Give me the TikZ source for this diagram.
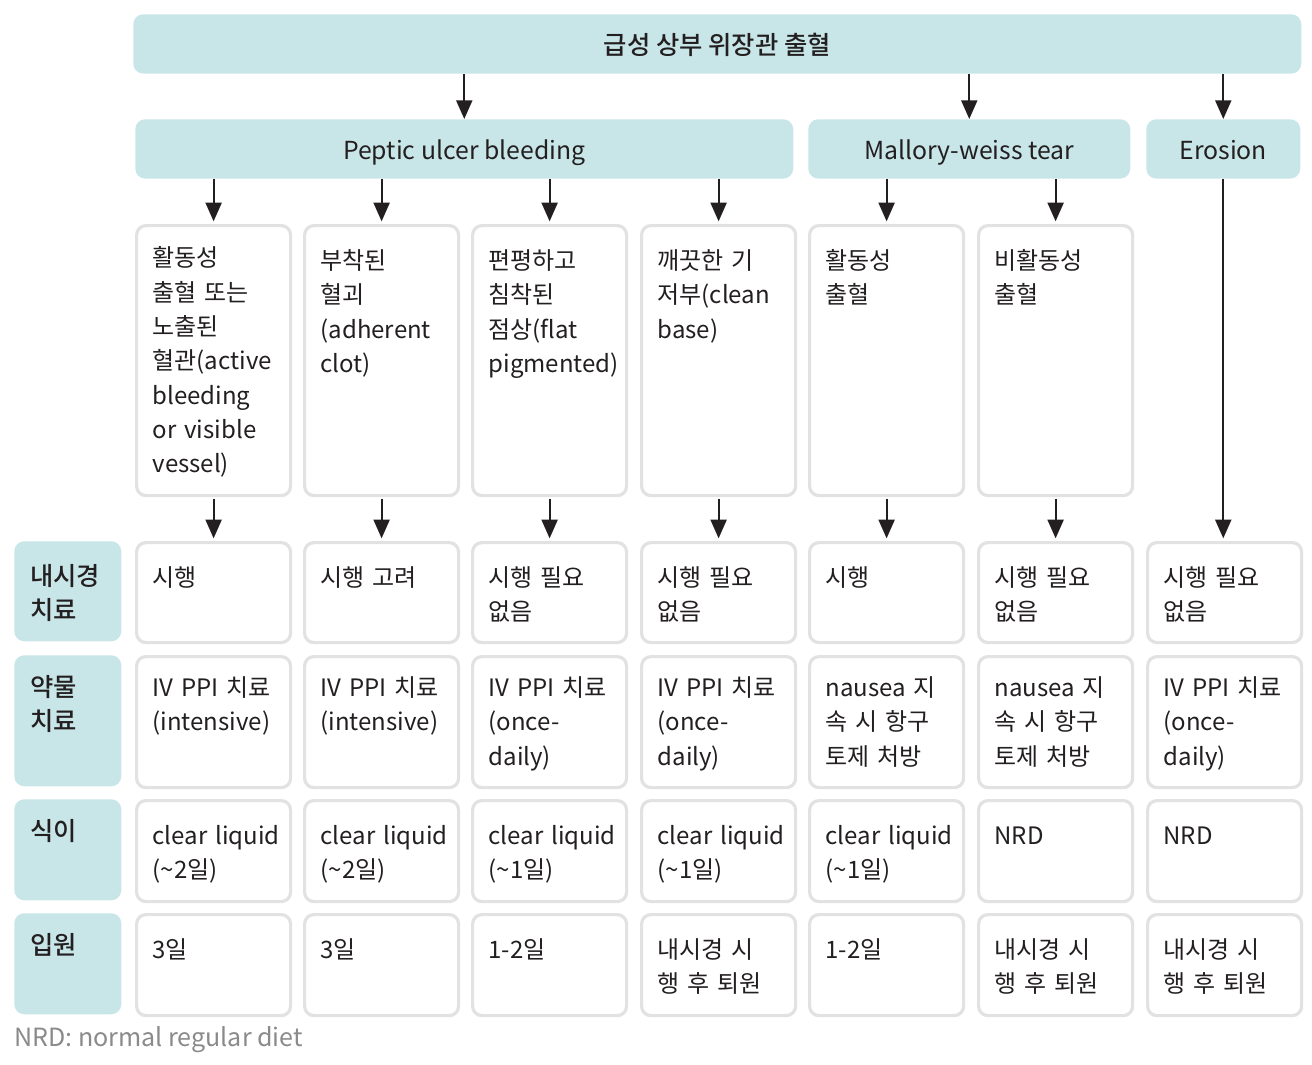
\documentclass[tikz,border=0pt]{standalone}
\usepackage{fontspec}
\setmainfont{Noto Sans CJK KR}[BoldFont={Noto Sans CJK KR Medium}]
\usetikzlibrary{arrows.meta}
\definecolor{headfill}{RGB}{200,230,232}
\definecolor{cellline}{RGB}{226,226,226}
\definecolor{ink}{RGB}{35,31,32}
\definecolor{notegray}{RGB}{138,138,138}
\hyphenpenalty=10000
\begin{document}
\begin{tikzpicture}[x=0.75pt, y=-0.75pt, font=\fontsize{18pt}{25.7pt}\selectfont, text=ink]
\tikzstyle{head} = [rectangle, rounded corners=7.5pt, fill=headfill, anchor=north west, inner sep=0pt, minimum height=44.5pt, text height=17.5pt, text depth=2pt, font=\fontsize{18.6pt}{22pt}\selectfont]
\tikzstyle{cell} = [rectangle, rounded corners=7pt, draw=cellline, line width=2.4pt, fill=white, anchor=north west, inner xsep=12pt, inner ysep=6pt, text width=91.5pt, align=left, text height=27pt]
\tikzstyle{tag} = [rectangle, rounded corners=7.5pt, fill=headfill, anchor=north west, inner xsep=12pt, inner ysep=6pt, text width=56.25pt, align=left, text height=27pt, font=\fontsize{19pt}{25.7pt}\selectfont\bfseries]
\tikzstyle{arrow} = [draw=ink, line width=1.5pt, -{Triangle[length=14pt, width=12pt]}]
\useasboundingbox (0,0) rectangle (1312,1064);
%
\node (top) [head, minimum width=876pt, font=\fontsize{19pt}{22pt}\selectfont\bfseries] at (133,14) {급성 상부 위장관 출혈};
\node (peptic) [head, minimum width=493.5pt] at (135,119) {Peptic ulcer bleeding};
\node (mallory) [head, minimum width=241.5pt] at (808,119) {Mallory-weiss tear};
\node (erosion) [head, minimum width=115.5pt] at (1146,119) {Erosion};
%
\node (type-1) [cell, text height=25pt, text depth=165.5pt] at (135,224) {활동성\\출혈 또는\\노출된\\혈관(active\\bleeding\\or visible\\vessel)};
\node (type-2) [cell, text depth=163.5pt] at (303,224) {부착된\\혈괴\\(adherent\\clot)};
\node (type-3) [cell, text depth=163.5pt] at (471,224) {편평하고\\침착된\\점상(flat\\pigmented)};
\node (type-4) [cell, text depth=163.5pt] at (640,224) {깨끗한 기\\저부(clean\\base)};
\node (type-5) [cell, text depth=163.5pt] at (808,224) {활동성\\출혈};
\node (type-6) [cell, text depth=163.5pt] at (977,224) {비활동성\\출혈};
%
\node (endo) [tag, text depth=36pt] at (14,541) {내시경\\치료};
\node (endo-1) [cell, text depth=36pt] at (135,541) {시행};
\node (endo-2) [cell, text depth=36pt] at (303,541) {시행 고려};
\node (endo-3) [cell, text depth=36pt] at (471,541) {시행 필요\\없음};
\node (endo-4) [cell, text depth=36pt] at (640,541) {시행 필요\\없음};
\node (endo-5) [cell, text depth=36pt] at (808,541) {시행};
\node (endo-6) [cell, text depth=36pt] at (977,541) {시행 필요\\없음};
\node (endo-7) [cell, text depth=36pt] at (1146,541) {시행 필요\\없음};
%
\node (drug) [tag, text height=25pt, text depth=61.25pt] at (14,655) {약물\\치료};
\node (drug-1) [cell, text height=24pt, text depth=62.25pt] at (135,655) {IV PPI 치료\\(intensive)};
\node (drug-2) [cell, text height=24pt, text depth=62.25pt] at (303,655) {IV PPI 치료\\(intensive)};
\node (drug-3) [cell, text height=24pt, text depth=62.25pt] at (471,655) {IV PPI 치료\\(once-\\daily)};
\node (drug-4) [cell, text height=24pt, text depth=62.25pt] at (640,655) {IV PPI 치료\\(once-\\daily)};
\node (drug-5) [cell, text height=24pt, text depth=62.25pt] at (808,655) {nausea 지\\속 시 항구\\토제 처방};
\node (drug-6) [cell, text height=24pt, text depth=62.25pt] at (977,655) {nausea 지\\속 시 항구\\토제 처방};
\node (drug-7) [cell, text height=24pt, text depth=62.25pt] at (1146,655) {IV PPI 치료\\(once-\\daily)};
%
\node (diet) [tag, text height=25pt, text depth=38.75pt] at (14,799) {식이};
\node (diet-1) [cell, text depth=36.75pt] at (135,799) {clear~liquid\\(\textasciitilde 2일)};
\node (diet-2) [cell, text depth=36.75pt] at (303,799) {clear~liquid\\(\textasciitilde 2일)};
\node (diet-3) [cell, text depth=36.75pt] at (471,799) {clear~liquid\\(\textasciitilde 1일)};
\node (diet-4) [cell, text depth=36.75pt] at (640,799) {clear~liquid\\(\textasciitilde 1일)};
\node (diet-5) [cell, text depth=36.75pt] at (808,799) {clear~liquid\\(\textasciitilde 1일)};
\node (diet-6) [cell, text depth=36.75pt] at (977,799) {NRD};
\node (diet-7) [cell, text depth=36.75pt] at (1146,799) {NRD};
%
\node (stay) [tag, text height=25pt, text depth=38.75pt] at (14,913) {입원};
\node (stay-1) [cell, text depth=36.75pt] at (135,913) {3일};
\node (stay-2) [cell, text depth=36.75pt] at (303,913) {3일};
\node (stay-3) [cell, text depth=36.75pt] at (471,913) {1-2일};
\node (stay-4) [cell, text depth=36.75pt] at (640,913) {내시경 시\\행 후 퇴원};
\node (stay-5) [cell, text depth=36.75pt] at (808,913) {1-2일};
\node (stay-6) [cell, text depth=36.75pt] at (977,913) {내시경 시\\행 후 퇴원};
\node (stay-7) [cell, text depth=36.75pt] at (1146,913) {내시경 시\\행 후 퇴원};
%
\node (note) [anchor=west, inner sep=0pt, text=notegray, font=\fontsize{18.8pt}{22pt}\selectfont] at (14,1040) {NRD: normal regular diet};
%
\draw [arrow] (top.south -| peptic.north) -- (peptic.north);
\draw [arrow] (top.south -| mallory.north) -- (mallory.north);
\draw [arrow] (top.south -| erosion.north) -- (erosion.north);
\draw [arrow, shorten >=2pt] (peptic.south -| type-1.north) -- (type-1.north);
\draw [arrow, shorten >=2pt] (peptic.south -| type-2.north) -- (type-2.north);
\draw [arrow, shorten >=2pt] (peptic.south -| type-3.north) -- (type-3.north);
\draw [arrow, shorten >=2pt] (peptic.south -| type-4.north) -- (type-4.north);
\draw [arrow, shorten >=2pt] (mallory.south -| type-5.north) -- (type-5.north);
\draw [arrow, shorten >=2pt] (mallory.south -| type-6.north) -- (type-6.north);
\draw [arrow, shorten <=1pt, shorten >=2pt] (type-1.south) -- (endo-1.north);
\draw [arrow, shorten <=1pt, shorten >=2pt] (type-2.south) -- (endo-2.north);
\draw [arrow, shorten <=1pt, shorten >=2pt] (type-3.south) -- (endo-3.north);
\draw [arrow, shorten <=1pt, shorten >=2pt] (type-4.south) -- (endo-4.north);
\draw [arrow, shorten <=1pt, shorten >=2pt] (type-5.south) -- (endo-5.north);
\draw [arrow, shorten <=1pt, shorten >=2pt] (type-6.south) -- (endo-6.north);
\draw [arrow, shorten >=2pt] (erosion.south) -- (erosion.south |- endo-7.north);
\end{tikzpicture}
\end{document}
